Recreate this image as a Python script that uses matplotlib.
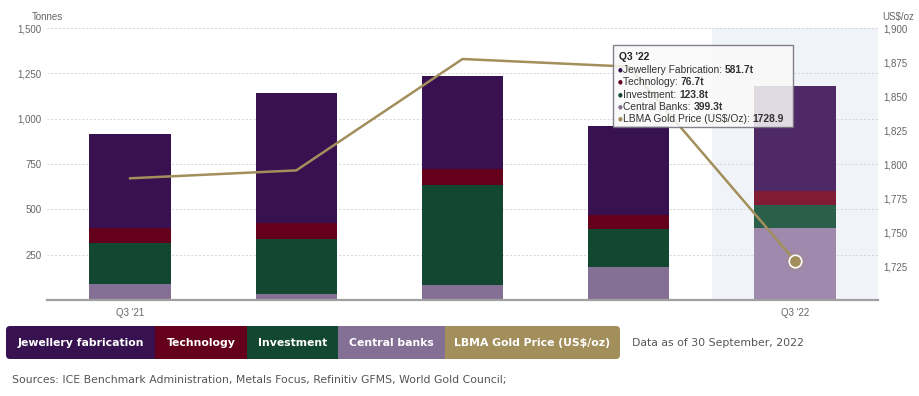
import matplotlib
matplotlib.use("Agg")
import matplotlib.pyplot as plt
from matplotlib.patches import Rectangle, FancyBboxPatch
from matplotlib.ticker import FuncFormatter

quarters = ["Q3 '21", "Q4 '21", "Q1 '22", "Q2 '22", "Q3 '22"]
shown_labels = ["Q3 '21", "", "", "", "Q3 '22"]
jewellery = [517, 717, 513, 491, 581.7]
technology = [85, 89, 89, 77, 76.7]
investment = [226, 303, 551, 210, 123.8]
central_banks = [88, 33, 83, 182, 399.3]
gold_price = [1789.5, 1795.3, 1877.2, 1871.6, 1728.9]

left_ticks = [250, 500, 750, 1000, 1250, 1500]
right_ticks = [1725, 1750, 1775, 1800, 1825, 1850, 1875, 1900]

W, H = 920, 396


def fx(x):
    return x / W


def fy(y):
    return 1 - y / H


# colours: normal, highlighted (hovered last quarter)
c_jew = ('#371150', '#4f2966')
c_tec = ('#65001c', '#811c34')
c_inv = ('#124732', '#2a5f4a')
c_cb = ('#846f95', '#9f89ad')
c_gold = '#a38f5c'
tick_col = '#666666'
tick_font = 'Liberation Sans'

fig = plt.figure(figsize=(9.2, 3.96), dpi=100)
ax = fig.add_axes([fx(47), fy(300), (878 - 47) / W, 272 / H])

xs = list(range(len(quarters)))
ax.axvspan(3.5, 4.5, color='#f0f3f8', zorder=0, lw=0)

hl = [0, 0, 0, 0, 1]
bottom = [0] * 5
for vals, cols in [(central_banks, c_cb), (investment, c_inv),
                   (technology, c_tec), (jewellery, c_jew)]:
    ax.bar(xs, vals, bottom=bottom, width=0.49,
           color=[cols[h] for h in hl], zorder=2, lw=0)
    bottom = [b + v for b, v in zip(bottom, vals)]

ax.set_xlim(-0.5, 4.5)
ax.set_ylim(0, 1500)
ax.set_yticks(left_ticks)
ax.yaxis.set_major_formatter(FuncFormatter(lambda v, p: f'{int(v):,}'))
ax.set_xticks(xs)
ax.set_xticklabels(shown_labels)
ax.grid(axis='y', linestyle=(0, (2, 2)), color='#d6d6d6', lw=0.7)
ax.set_axisbelow(True)
for s in ['top', 'right', 'left']:
    ax.spines[s].set_visible(False)
ax.spines['bottom'].set_color('#a0a0a0')
ax.spines['bottom'].set_linewidth(1.6)
ax.tick_params(length=0, labelsize=7, labelcolor=tick_col, pad=4)
ax.tick_params(axis='x', pad=6)
for lab in ax.get_xticklabels() + ax.get_yticklabels():
    lab.set_fontfamily(tick_font)

ax2 = ax.twinx()
ax2.set_ylim(1700, 1900)
ax2.set_yticks(right_ticks)
ax2.yaxis.set_major_formatter(FuncFormatter(lambda v, p: f'{int(v):,}'))
for s in ['top', 'right', 'left', 'bottom']:
    ax2.spines[s].set_visible(False)
ax2.tick_params(length=0, labelsize=7, labelcolor=tick_col, pad=4)
for lab in ax2.get_yticklabels():
    lab.set_fontfamily(tick_font)
ax2.plot(xs, gold_price, color=c_gold, lw=1.8, zorder=3)
ax2.plot(xs[-1], gold_price[-1], 'o', ms=13, color=c_gold, alpha=0.25,
         mec='none', zorder=4)
ax2.plot(xs[-1], gold_price[-1], 'o', ms=9, mfc=c_gold, mec='white',
         mew=1.2, zorder=5)

fig.text(fx(63), fy(17), 'Tonnes', ha='right', va='center', fontsize=7,
         color=tick_col, family=tick_font)
fig.text(fx(882), fy(17), 'US$/oz', ha='left', va='center', fontsize=7,
         color=tick_col, family=tick_font)

# tooltip
tip = FancyBboxPatch((fx(613), fy(127)), fx(793) - fx(613), fy(45) - fy(127),
                     boxstyle='square,pad=0', transform=fig.transFigure,
                     facecolor='#fafafa', alpha=0.85, edgecolor='#6f6c78',
                     lw=1, zorder=10)
fig.add_artist(tip)
fig.text(fx(619), fy(57), "Q3 '22", ha='left', va='center', fontsize=7.4,
         weight='bold', color='#222222', family=tick_font, zorder=11)
tip_rows = [
    ('Jewellery Fabrication: ', f'{jewellery[-1]}t', c_jew[0]),
    ('Technology: ', f'{technology[-1]}t', c_tec[0]),
    ('Investment: ', f'{investment[-1]}t', c_inv[0]),
    ('Central Banks: ', f'{central_banks[-1]}t', c_cb[0]),
    ('LBMA Gold Price (US$/Oz): ', f'{gold_price[-1]}', c_gold),
]
fig.canvas.draw()
renderer = fig.canvas.get_renderer()
y = 70
for label, val, col in tip_rows:
    fig.text(fx(618), fy(y), '\u25CF', ha='left', va='center', fontsize=4,
             color=col, family='DejaVu Sans', zorder=11)
    t = fig.text(fx(623), fy(y), label, ha='left', va='center', fontsize=7.4,
                 color='#333333', family=tick_font, zorder=11)
    bb = t.get_window_extent(renderer)
    fig.text(bb.x1 / W, fy(y), val, ha='left', va='center', fontsize=7.4,
             weight='bold', color='#333333', family=tick_font, zorder=11)
    y += 12.3

# legend boxes at the bottom
legend_items = [
    ('Jewellery fabrication', c_jew[0], 6, 155),
    ('Technology', c_tec[0], 155, 247),
    ('Investment', c_inv[0], 247, 338),
    ('Central banks', c_cb[0], 338, 445),
    ('LBMA Gold Price (US$/oz)', c_gold, 445, 620),
]
y0, y1 = 359, 326
for i, (name, col, xa, xb) in enumerate(legend_items):
    if i == 0 or i == len(legend_items) - 1:
        ext_a = xa if i == 0 else xa - 10
        ext_b = xb + 10 if i == 0 else xb
        p = FancyBboxPatch((fx(ext_a + 4), fy(y0) + 4 / H),
                           (ext_b - ext_a - 8) / W, (y0 - y1 - 8) / H,
                           boxstyle=f'round,pad={4 / W},rounding_size={4 / W}',
                           transform=fig.transFigure, facecolor=col,
                           edgecolor='none', mutation_aspect=W / H, zorder=1)
        fig.add_artist(p)
for i, (name, col, xa, xb) in enumerate(legend_items):
    if 0 < i < len(legend_items) - 1:
        r = Rectangle((fx(xa), fy(y0)), (xb - xa) / W, (y0 - y1) / H,
                      transform=fig.transFigure, facecolor=col,
                      edgecolor='none', zorder=2)
        fig.add_artist(r)
    fig.text(fx((xa + xb) / 2), fy((y0 + y1) / 2), name, ha='center',
             va='center', fontsize=7.8, weight='bold', color='white',
             family='DejaVu Sans', zorder=3)

fig.text(fx(632), fy(343), 'Data as of 30 September, 2022', ha='left',
         va='center', fontsize=7.8, color='#555555', family='DejaVu Sans')
fig.text(fx(12), fy(380),
         'Sources: ICE Benchmark Administration, Metals Focus, '
         'Refinitiv GFMS, World Gold Council;',
         ha='left', va='center', fontsize=7.8, color='#555555',
         family='DejaVu Sans')

fig.savefig('out.png', dpi=100)
